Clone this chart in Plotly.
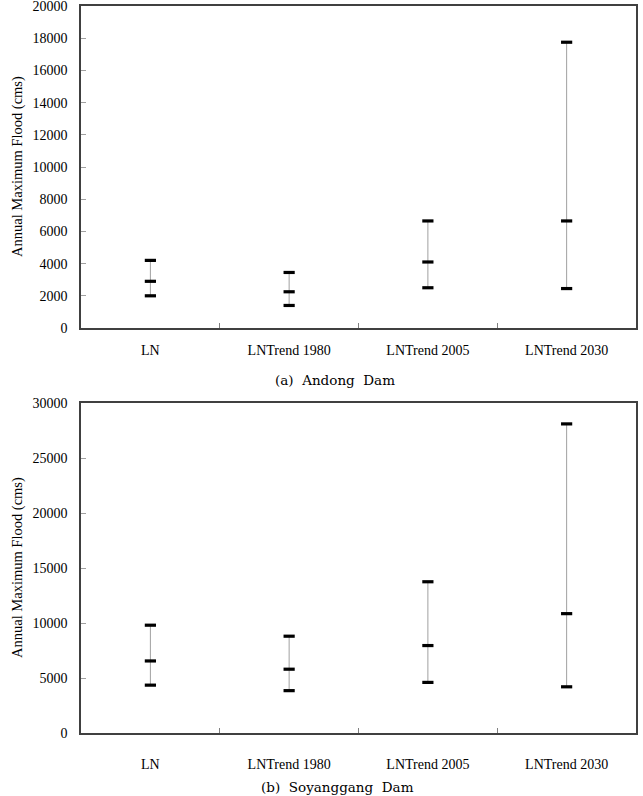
import plotly.graph_objects as go

categories = ["LN", "LNTrend 1980", "LNTrend 2005", "LNTrend 2030"]

andong_low = [2000, 1400, 2500, 2450]
andong_mid = [2900, 2250, 4100, 6650]
andong_high = [4200, 3450, 6650, 17750]

soyang_low = [4350, 3850, 4600, 4200]
soyang_mid = [6550, 5800, 7950, 10850]
soyang_high = [9800, 8800, 13750, 28100]

W, H = 643, 796
SERIF = "Liberation Serif"
CAPFONT = "DejaVu Serif"

fig = go.Figure()


def add_panel(low, mid, high, xa, ya):
    # gray vertical range line
    fig.add_trace(go.Scatter(
        x=categories, y=mid, mode="markers", xaxis=xa, yaxis=ya,
        marker=dict(size=1, color="rgba(0,0,0,0)"),
        error_y=dict(type="data", symmetric=False,
                     array=[h - m for h, m in zip(high, mid)],
                     arrayminus=[m - l for m, l in zip(mid, low)],
                     color="#a0a0a0", thickness=1, width=0),
        showlegend=False, hoverinfo="skip"))
    for vals in (low, mid, high):
        fig.add_trace(go.Scatter(
            x=categories, y=vals, mode="markers", xaxis=xa, yaxis=ya,
            marker=dict(symbol="line-ew", size=8,
                        line=dict(width=3.2, color="black")),
            showlegend=False))


add_panel(andong_low, andong_mid, andong_high, "x", "y")
add_panel(soyang_low, soyang_mid, soyang_high, "x2", "y2")

xdom = [81 / W, 636 / W]
top_dom = [1 - 328 / H, 1 - 6 / H]
bot_dom = [1 - 733 / H, 1 - 403 / H]

axis_common = dict(showline=True, linecolor="#404040", linewidth=1.5,
                   mirror=True, showgrid=False, zeroline=False,
                   automargin=False, ticklabeloverflow="allow",
                   tickfont=dict(family=SERIF, size=14, color="black"))

xcommon = dict(axis_common, type="category", ticks="inside", ticklen=5,
               tickcolor="#808080", tickson="boundaries",
               range=[-0.5, 3.5])

fig.update_layout(
    width=W, height=H,
    margin=dict(l=0, r=0, t=0, b=0, pad=0, autoexpand=False),
    paper_bgcolor="white", plot_bgcolor="white",
    font=dict(family=SERIF, color="black"),
    xaxis=dict(xcommon, domain=xdom, anchor="y", ticklabelstandoff=8),
    yaxis=dict(axis_common, domain=top_dom, anchor="x", range=[0, 20000],
               tickvals=list(range(0, 20001, 2000)), tickformat="d",
               ticks="inside", ticklen=5, tickcolor="#a0a0a0",
               ticklabelstandoff=9),
    xaxis2=dict(xcommon, domain=xdom, anchor="y2", ticklabelstandoff=17),
    yaxis2=dict(axis_common, domain=bot_dom, anchor="x2", range=[0, 30000],
                tickvals=list(range(0, 30001, 5000)), tickformat="d",
                ticks="inside", ticklen=5, tickcolor="#a0a0a0",
                ticklabelstandoff=9),
)

ytitle = "Annual Maximum Flood (cms)"
fig.add_annotation(text=ytitle, textangle=-90, xref="paper", yref="paper",
                   x=17 / W, y=1 - 167 / H, showarrow=False,
                   xanchor="center", yanchor="middle",
                   font=dict(family=SERIF, size=14.5, color="black"))
fig.add_annotation(text=ytitle, textangle=-90, xref="paper", yref="paper",
                   x=17 / W, y=1 - 568 / H, showarrow=False,
                   xanchor="center", yanchor="middle",
                   font=dict(family=SERIF, size=14.5, color="black"))

fig.add_annotation(text="(a)  Andong  Dam", xref="paper", yref="paper",
                   x=335 / W, y=1 - 380 / H, showarrow=False,
                   xanchor="center", yanchor="middle",
                   font=dict(family=CAPFONT, size=13.5, color="black"))
fig.add_annotation(text="(b)  Soyanggang  Dam", xref="paper", yref="paper",
                   x=337 / W, y=1 - 787 / H, showarrow=False,
                   xanchor="center", yanchor="middle",
                   font=dict(family=CAPFONT, size=13.5, color="black"))

fig.write_html("out.html")
